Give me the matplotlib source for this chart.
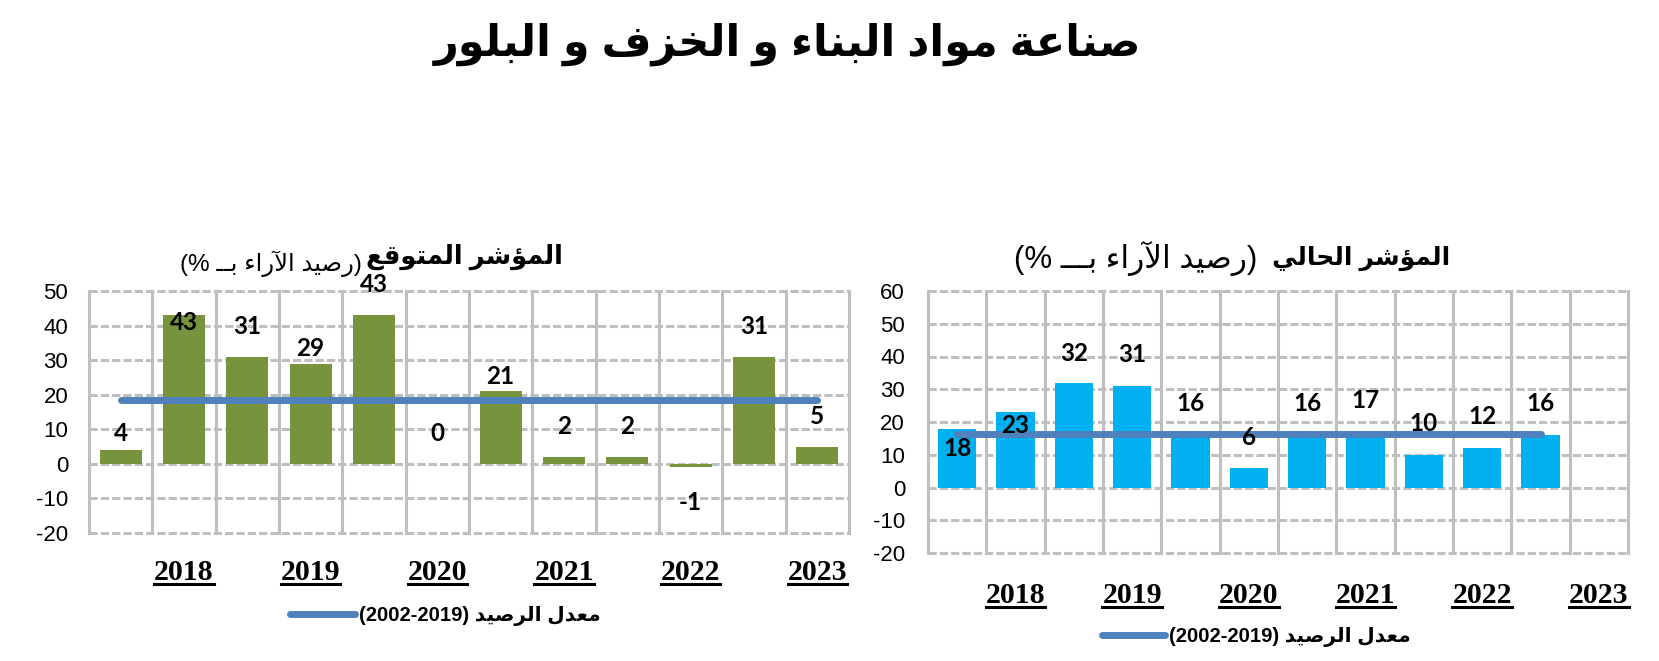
import re
import numpy as np
import matplotlib
matplotlib.use('Agg')
import matplotlib.pyplot as plt
from matplotlib.lines import Line2D
from matplotlib.font_manager import FontProperties

# ---- data ----
title = 'صناعة مواد البناء و الخزف و البلور'
left_title_bold = 'المؤشر المتوقع'
right_title_bold = 'المؤشر الحالي'
left_unit = '(رصيد الآراء بــ %)'
right_unit = '(رصيد الآراء بـــ %)'
legend_label = 'معدل الرصيد (2002-2019)'
years = ['2018', '2019', '2020', '2021', '2022', '2023']

expected = [4, 43, 31, 29, 43, 0, 21, 2, 2, -1, 31, 5]
expected_avg = [18.6] * 12
current = [18, 23, 32, 31, 16, 6, 16, 17, 10, 12, 16, np.nan]
current_avg = [16.2] * 11 + [np.nan]

# where excel put the value labels (offset from bar top, in axis units)
left_dy = [4.7, -2, 8.6, 4.3, 8.8, 8.8, 4.2, 8.7, 8.7, -10.3, 8.6, 8.6]
right_dy = [-6, -4, 9, 9.6, 9.6, 9.3, 9.6, 9.5, 9.5, 9.7, 9.6, 0]

# ---- minimal arabic shaping (matplotlib does no shaping / bidi) ----
FORMS = {
    'ء': (0xFE80, None, None, None),
    'آ': (0xFE81, 0xFE82, None, None),
    'أ': (0xFE83, 0xFE84, None, None),
    'ؤ': (0xFE85, 0xFE86, None, None),
    'إ': (0xFE87, 0xFE88, None, None),
    'ا': (0xFE8D, 0xFE8E, None, None),
    'ب': (0xFE8F, 0xFE90, 0xFE91, 0xFE92),
    'ة': (0xFE93, 0xFE94, None, None),
    'ت': (0xFE95, 0xFE96, 0xFE97, 0xFE98),
    'ح': (0xFEA1, 0xFEA2, 0xFEA3, 0xFEA4),
    'خ': (0xFEA5, 0xFEA6, 0xFEA7, 0xFEA8),
    'د': (0xFEA9, 0xFEAA, None, None),
    'ر': (0xFEAD, 0xFEAE, None, None),
    'ز': (0xFEAF, 0xFEB0, None, None),
    'ش': (0xFEB5, 0xFEB6, 0xFEB7, 0xFEB8),
    'ص': (0xFEB9, 0xFEBA, 0xFEBB, 0xFEBC),
    'ع': (0xFEC9, 0xFECA, 0xFECB, 0xFECC),
    'ف': (0xFED1, 0xFED2, 0xFED3, 0xFED4),
    'ق': (0xFED5, 0xFED6, 0xFED7, 0xFED8),
    'ل': (0xFEDD, 0xFEDE, 0xFEDF, 0xFEE0),
    'م': (0xFEE1, 0xFEE2, 0xFEE3, 0xFEE4),
    'ن': (0xFEE5, 0xFEE6, 0xFEE7, 0xFEE8),
    'و': (0xFEED, 0xFEEE, None, None),
    'ي': (0xFEF1, 0xFEF2, 0xFEF3, 0xFEF4),
    'ـ': (0x640, 0x640, 0x640, 0x640),
}
LAM_ALEF = {'ا': (0xFEFB, 0xFEFC), 'أ': (0xFEF7, 0xFEF8),
            'إ': (0xFEF9, 0xFEFA), 'آ': (0xFEF5, 0xFEF6)}


def links_back(c):
    return c in FORMS and FORMS[c][1] is not None


def links_fwd(c):
    return c in FORMS and FORMS[c][2] is not None


def shape(s):
    out = []
    i = 0
    while i < len(s):
        c = s[i]
        if c not in FORMS:
            out.append(c)
            i += 1
            continue
        prev = s[i - 1] if i > 0 else ''
        jp = links_fwd(prev) and links_back(c)
        if c == 'ل' and i + 1 < len(s) and s[i + 1] in LAM_ALEF:
            iso, fin = LAM_ALEF[s[i + 1]]
            out.append(chr(fin if jp else iso))
            i += 2
            continue
        nxt = s[i + 1] if i + 1 < len(s) else ''
        jn = links_fwd(c) and links_back(nxt)
        iso, fin, ini, med = FORMS[c]
        g = med if (jp and jn) else fin if jp else ini if jn else iso
        out.append(chr(g))
        i += 1
    return ''.join(out)


def rtl(s):
    tokens = re.findall(r'[0-9]+(?:-[0-9]+)*|.', shape(s))
    mirror = {'(': ')', ')': '('}
    return ''.join(mirror.get(t, t) for t in reversed(tokens))


# ---- figure ----
W, H = 1659, 661
fig = plt.figure(figsize=(W / 100, H / 100), dpi=100)


def fx(px):
    return px / W


def fy(py):
    return 1 - py / H


GRID = '#bfbfbf'
BLUE = '#4f81bd'
AR = ['Liberation Sans', 'DejaVu Sans']


def draw_panel(rect, values, avg, ylo, yhi, color, dy, ytick_pad, xtick_pad):
    ax = fig.add_axes(rect)
    x = np.arange(len(values))
    ax.set_xlim(-0.5, len(values) - 0.5)
    ax.set_ylim(ylo, yhi)
    for s in ax.spines.values():
        s.set_visible(False)
    yt = np.arange(ylo, yhi + 1, 10)
    for v in yt:
        ax.axhline(v, color=GRID, lw=2.2, ls=(0, (2.7, 1.0)), zorder=0, clip_on=False)
    for b in np.arange(-0.5, len(values), 1.0):
        ax.axvline(b, color=GRID, lw=2.2, zorder=0, clip_on=False)
    ax.bar(x, values, width=0.66, color=color, zorder=2)
    ax.plot(x, avg, color=BLUE, lw=5, solid_capstyle='round', zorder=3,
            label=rtl(legend_label))
    for xi, v, d in zip(x, values, dy):
        if np.isnan(v):
            continue
        ax.text(xi, v + d, str(int(v)), ha='center', va='center', fontsize=17.5,
                fontweight='bold', family='Lato', zorder=4)
    ax.set_yticks(yt)
    ax.set_yticklabels([str(int(v)) for v in yt], fontsize=16, family='Liberation Sans')
    ax.set_xticks(x[1::2])
    ax.set_xticklabels(years, fontsize=21.5, fontweight='bold', family='Liberation Serif')
    ax.tick_params(axis='y', length=0, pad=ytick_pad)
    ax.tick_params(axis='x', length=0, pad=xtick_pad)
    return ax


ax1 = draw_panel([fx(89), fy(533), fx(760), (533 - 291) / H], expected, expected_avg,
                 -20, 50, '#77933c', left_dy, 15, 18.7)
ax2 = draw_panel([fx(928), fy(553), fx(700), (553 - 291) / H], current, current_avg,
                 -20, 60, '#00b0f0', right_dy, 16.5, 20.9)

# titles
fig.text(fx(788), fy(44), rtl(title), ha='center', va='center', fontsize=31,
         fontweight='bold', family=AR)
lb = fig.text(fx(563), fy(257), rtl(left_title_bold), ha='right', va='center', fontsize=18.5,
              fontweight='bold', family=AR)
lu = fig.text(fx(367), fy(264), rtl(left_unit), ha='right', va='center', fontsize=17.5, family=AR)
rb = fig.text(fx(1450), fy(258), rtl(right_title_bold), ha='right', va='center', fontsize=18,
              fontweight='bold', family=AR)
ru = fig.text(fx(1262), fy(258), rtl(right_unit), ha='right', va='center', fontsize=22.5, family=AR)

# legends
lp = FontProperties(family=AR, weight='bold', size=14.6)
ax1.legend(loc='center left', bbox_to_anchor=(fx(290), fy(616)), bbox_transform=fig.transFigure,
           frameon=False, prop=lp, handlelength=3.2, handletextpad=0.2, borderpad=0,
           borderaxespad=0)
ax2.legend(loc='center left', bbox_to_anchor=(fx(1102), fy(637)), bbox_transform=fig.transFigure,
           frameon=False, prop=lp, handlelength=3.1, handletextpad=0.2, borderpad=0,
           borderaxespad=0)

fig.canvas.draw()
r = fig.canvas.get_renderer()

# unit text sits just left of the bold part of each panel title
for bold, unit, gap in ((lb, lu, 4), (rb, ru, 14)):
    bb = bold.get_window_extent(r)
    unit.set_x((bb.x0 - gap) / W)

# underline the year labels
for ax in (ax1, ax2):
    for lbl in ax.get_xticklabels():
        bb = lbl.get_window_extent(r)
        y = bb.y0 + 2
        fig.add_artist(Line2D([bb.x0 / W, bb.x1 / W], [y / H, y / H], color='black',
                              lw=2.2, transform=fig.transFigure))

fig.savefig('out.png', dpi=100)
